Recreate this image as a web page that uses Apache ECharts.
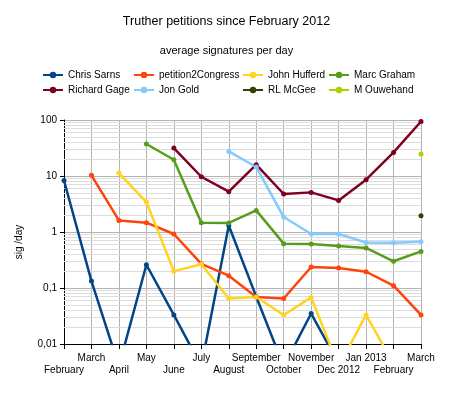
<!DOCTYPE html>
<html>
<head>
<meta charset="utf-8">
<title>Truther petitions</title>
<script src="https://cdn.jsdelivr.net/npm/echarts@6/dist/echarts.min.js"></script>
<style>
  html, body { margin: 0; padding: 0; background: #fff; }
  #chart { width: 453px; height: 397px; }
</style>
</head>
<body>
<div id="chart"></div>
<script>
// categories (months)
const months = ['February', 'March', 'April', 'May', 'June', 'July', 'August', 'September',
  'October', 'November', 'Dec 2012', 'Jan 2013', 'February', 'March'];

// average signatures per day (values under 0,01 leave the plot)
const chrisSarns = [8.3, 0.133, 0.004, 0.26, 0.033, 0.004, 1.31, 0.07, 0.004, 0.035, 0.0045, null, null, null];
const petition2Congress = [null, 10.3, 1.61, 1.47, 0.92, 0.27, 0.166, 0.069, 0.065, 0.237, 0.228, 0.195, 0.11, 0.033];
const johnHufferd = [null, null, 11.3, 3.43, 0.2, 0.265, 0.065, 0.069, 0.033, 0.068, 0.004, 0.033, 0.0044, null];
const marcGraham = [null, null, null, 37.3, 19.5, 1.47, 1.45, 2.43, 0.62, 0.61, 0.56, 0.52, 0.3, 0.45];
const richardGage = [null, null, null, null, 31.6, 9.7, 5.25, 15.9, 4.77, 5.1, 3.67, 8.6, 26.4, 94];
const jonGold = [null, null, null, null, null, null, 27.5, 14.5, 1.85, 0.92, 0.92, 0.65, 0.645, 0.67];
const rlMcGee = [null, null, null, null, null, null, null, null, null, null, null, null, null, 1.95];
const mOuwehand = [null, null, null, null, null, null, null, null, null, null, null, null, null, 24.7];

// minor grid values between the decades
const minorTicks = [];
[0.01, 0.1, 1, 10].forEach(d => {
  for (let k = 2; k <= 9; k++) minorTicks.push(+(d * k).toPrecision(3));
});

const font = 'Liberation Sans, Arial, sans-serif';

const seriesList = [
  { name: 'Chris Sarns', data: chrisSarns, color: '#004586' },
  { name: 'petition2Congress', data: petition2Congress, color: '#ff420e' },
  { name: 'John Hufferd', data: johnHufferd, color: '#ffd320' },
  { name: 'Marc Graham', data: marcGraham, color: '#579d1c' },
  { name: 'Richard Gage', data: richardGage, color: '#7e0021' },
  { name: 'Jon Gold', data: jonGold, color: '#83caff' },
  { name: 'RL McGee', data: rlMcGee, color: '#314004' },
  { name: 'M Ouwehand', data: mOuwehand, color: '#aecf00' }
];

// legend: 4 columns x 2 rows
const legendCols = [
  { left: 42, names: ['Chris Sarns', 'Richard Gage'] },
  { left: 133, names: ['petition2Congress', 'Jon Gold'] },
  { left: 242, names: ['John Hufferd', 'RL McGee'] },
  { left: 328, names: ['Marc Graham', 'M Ouwehand'] }
];

const chart = echarts.init(document.getElementById('chart'));

const option = {
  animation: false,
  title: [
    {
      text: 'Truther petitions since February 2012',
      left: 'center',
      top: 15,
      padding: 0,
      textStyle: { fontFamily: font, fontSize: 12.5, fontWeight: 'normal', color: '#000' }
    },
    {
      text: 'average signatures per day',
      left: 'center',
      top: 45,
      padding: 0,
      textStyle: { fontFamily: font, fontSize: 11, fontWeight: 'normal', color: '#000' }
    }
  ],
  legend: legendCols.map(c => ({
    orient: 'vertical',
    left: c.left,
    top: 68,
    padding: 0,
    itemGap: 1,
    itemWidth: 20,
    itemHeight: 8,
    data: c.names,
    textStyle: { fontFamily: font, fontSize: 10, color: '#000', lineHeight: 14 }
  })),
  grid: { left: 64, right: 32, top: 120, bottom: 53 },
  xAxis: {
    type: 'category',
    boundaryGap: false,
    data: months,
    axisLine: { lineStyle: { color: '#000', width: 1 } },
    axisTick: { show: true, interval: 0, length: 5, lineStyle: { color: '#000' } },
    axisLabel: {
      interval: 0,
      margin: 8,
      color: '#000',
      fontFamily: font,
      fontSize: 10,
      lineHeight: 12,
      formatter: (v, i) => (i % 2 === 0 ? '\n' + v : v)
    },
    splitLine: { show: true, interval: 0, lineStyle: { color: '#b3b3b3', width: 1 } }
  },
  yAxis: {
    type: 'log',
    logBase: 10,
    min: 0.01,
    max: 100,
    name: 'sig /day',
    nameLocation: 'middle',
    nameGap: 40,
    nameTextStyle: { fontFamily: font, fontSize: 10, color: '#000', padding: [0, 20, 0, 0] },
    axisLine: { show: true, lineStyle: { color: '#000', width: 1 } },
    axisTick: { show: true, length: 4, lineStyle: { color: '#000' } },
    axisLabel: {
      margin: 7,
      color: '#000',
      fontFamily: font,
      fontSize: 10,
      formatter: v => String(+(+v).toPrecision(6)).replace('.', ',')
    },
    splitLine: { show: true, lineStyle: { color: '#b3b3b3', width: 1 } }
  },
  series: [
    // minor horizontal grid lines
    {
      type: 'line',
      data: [],
      silent: true,
      markLine: {
        silent: true,
        z: 1,
        symbol: 'none',
        label: { show: false },
        lineStyle: { color: '#dcdcdc', type: 'solid', width: 1 },
        data: minorTicks.map(v => ({ yAxis: v }))
      }
    },
    ...seriesList.map(s => ({
      name: s.name,
      type: 'line',
      data: s.data,
      color: s.color,
      symbol: 'circle',
      symbolSize: 5,
      connectNulls: false,
      lineStyle: { width: 2.5 },
      clip: true
    }))
  ]
};

chart.setOption(option);
</script>
</body>
</html>
